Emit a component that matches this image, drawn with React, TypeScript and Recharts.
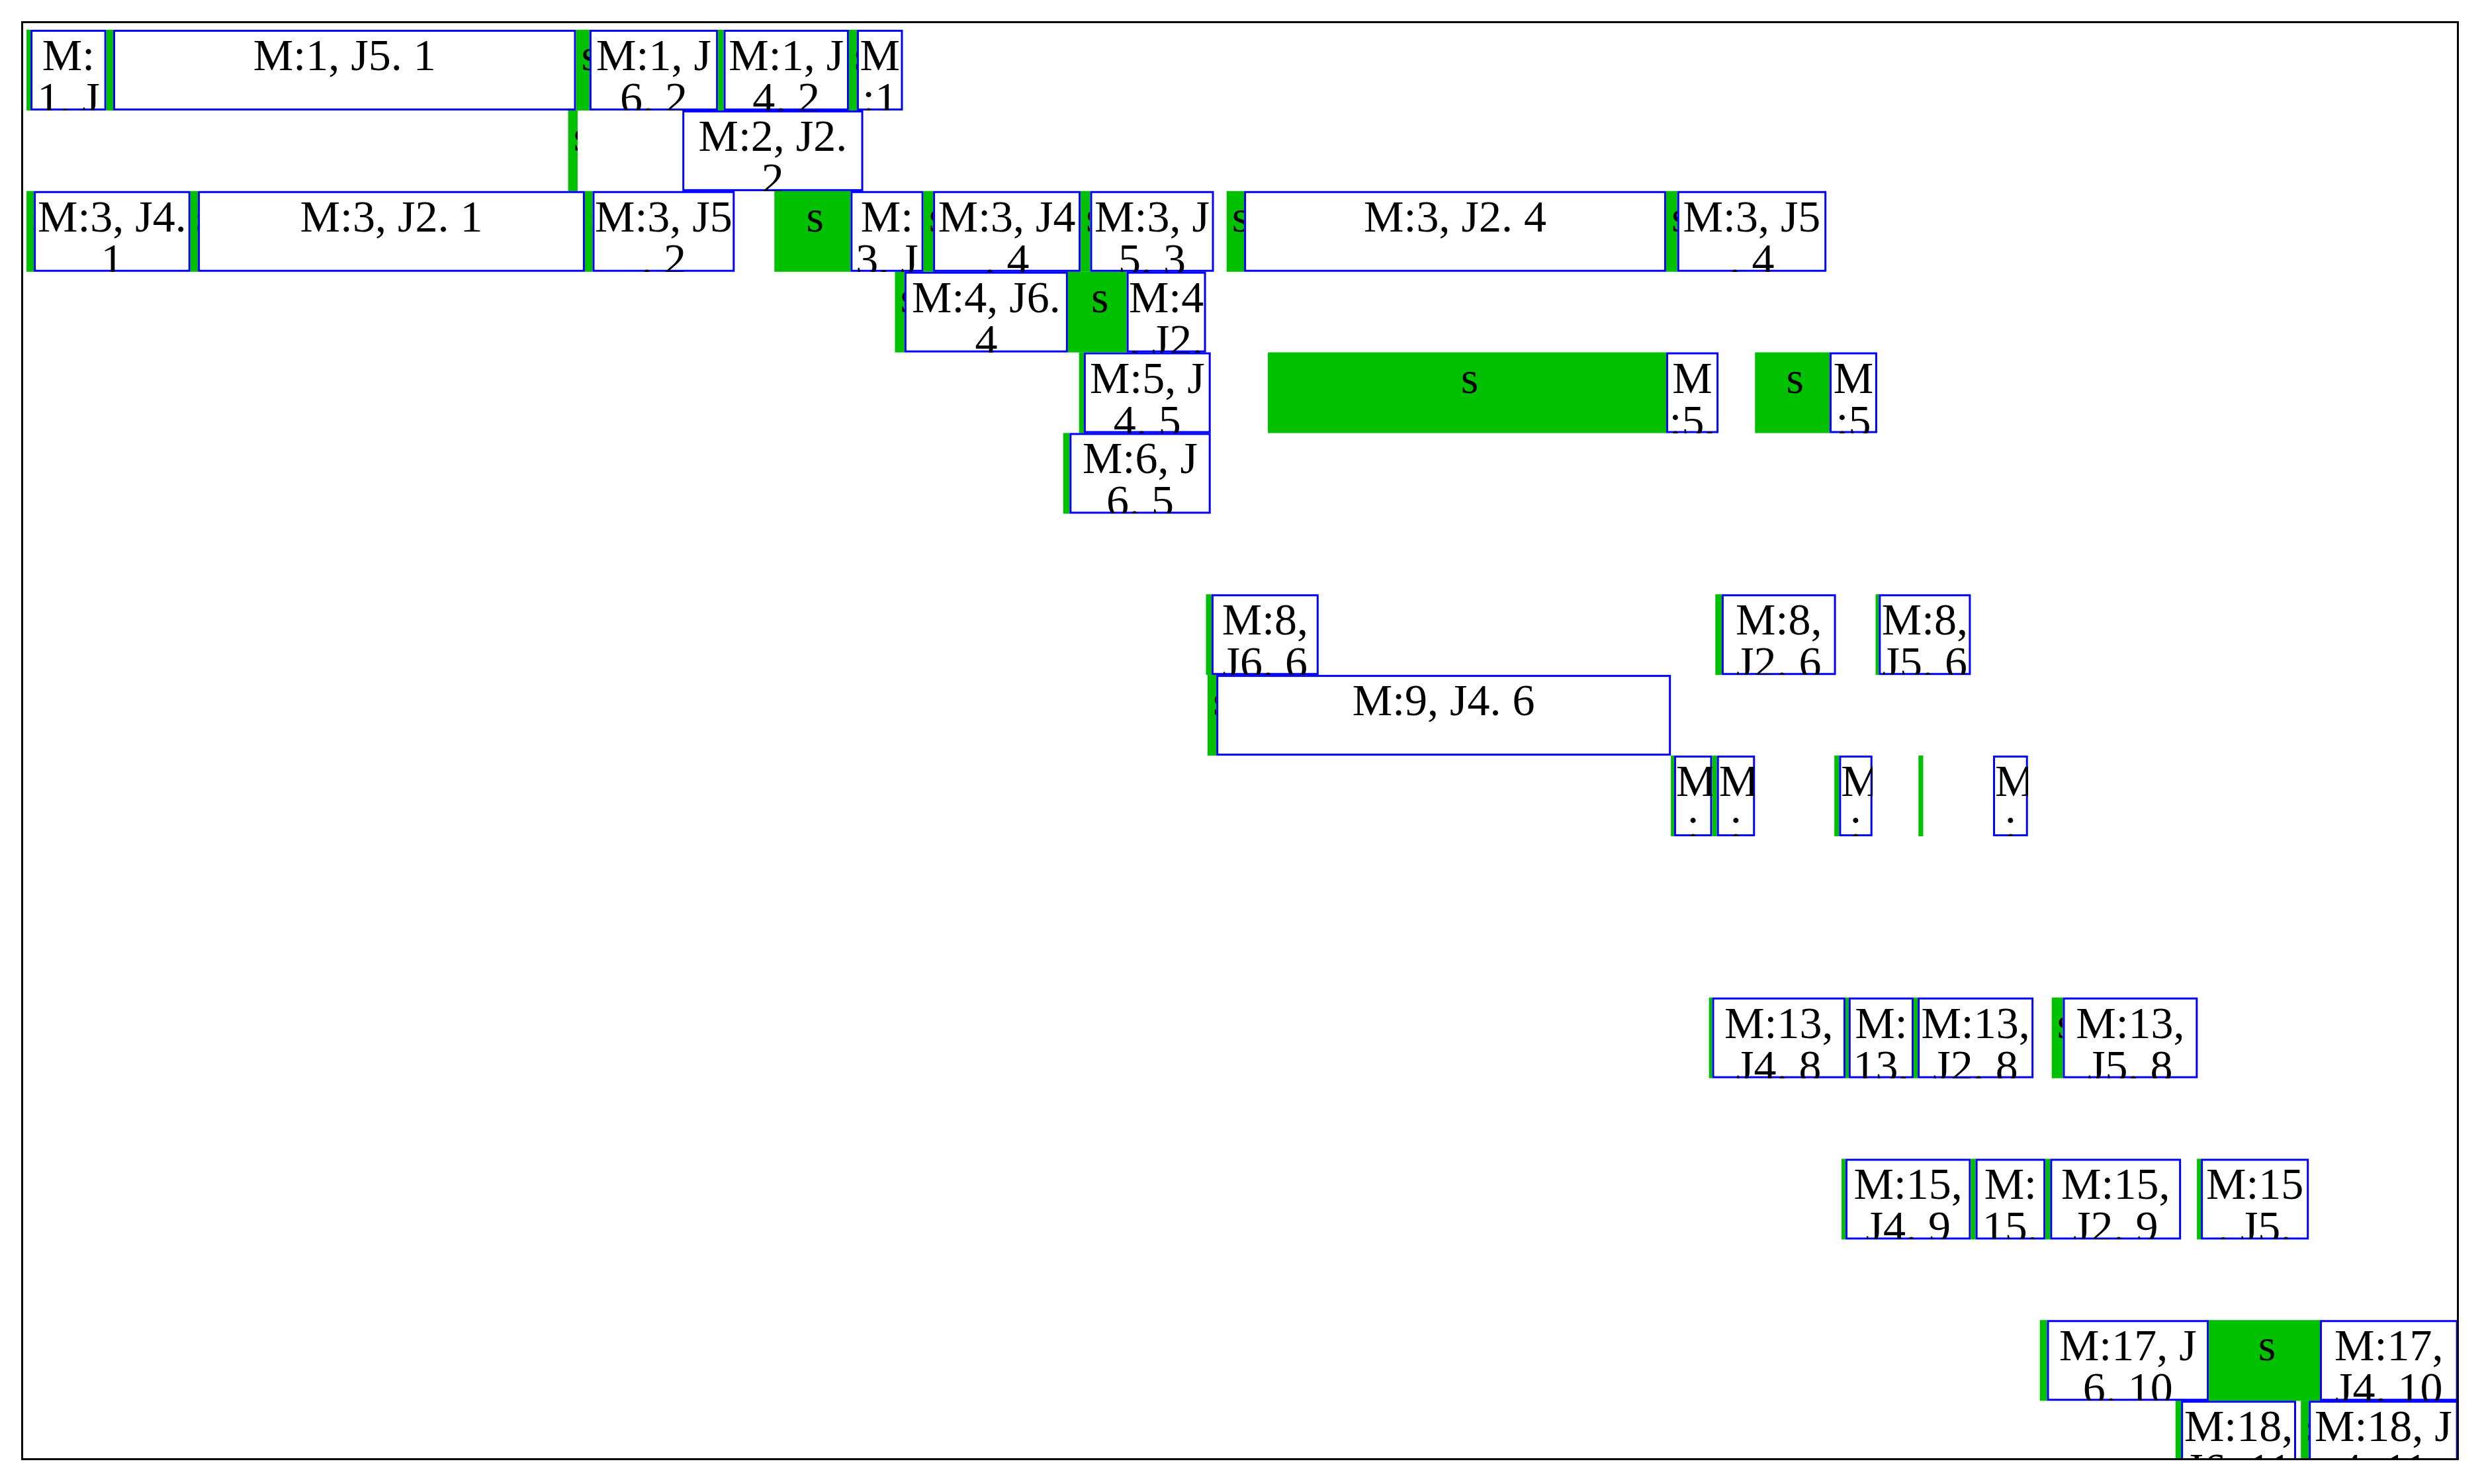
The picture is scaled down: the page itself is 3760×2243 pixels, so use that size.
import React from "react"
import { BarChart, Bar, XAxis, YAxis } from "recharts"

// one row per machine, top to bottom
const machines = [
  "M:1", "M:2", "M:3", "M:4", "M:5", "M:6", "M:7", "M:8", "M:9",
  "M:10", "M:11", "M:12", "M:13", "M:14", "M:15", "M:16", "M:17", "M:18",
]

// [setup start, job start, job end, label]
type Op = [number, number, number, string]

const m1: Op[] = [
  [2.7, 5.2, 53, "M:1, J6. 1"],
  [53, 57.3, 349, "M:1, J5. 1"],
  [349, 357.5, 438.5, "M:1, J6. 2"],
  [438.5, 442, 521, "M:1, J4. 2"],
  [521, 526, 555, "M:1, J2. 3"],
]
const m2: Op[] = [
  [344, 350, 350, ""],
  [416, 416, 530, "M:2, J2. 2"],
]
const m3: Op[] = [
  [2.7, 7.3, 106, "M:3, J4. 1"],
  [106, 110.7, 354.6, "M:3, J2. 1"],
  [354.6, 359.4, 449, "M:3, J5. 2"],
  [474, 522, 568, "M:3, J4. 3"],
  [568, 574, 667, "M:3, J4. 4"],
  [667, 673, 751, "M:3, J5. 3"],
  [759, 770, 1036, "M:3, J2. 4"],
  [1036, 1043, 1137, "M:3, J5. 4"],
]
const m4: Op[] = [
  [550, 556, 659, "M:4, J6. 4"],
  [659, 696, 746, "M:4, J2. 3"],
]
const m5: Op[] = [
  [666, 669, 749, "M:5, J4. 5"],
  [785, 1036, 1069, "M:5, J5. 5"],
  [1092, 1139, 1169, "M:5, J2. 5"],
]
const m6: Op[] = [[656, 660, 749, "M:6, J6. 5"]]
const m7: Op[] = []
const m8: Op[] = [
  [746, 749.5, 817, "M:8, J6. 6"],
  [1067, 1071, 1143, "M:8, J2. 6"],
  [1168, 1170, 1228, "M:8, J5. 6"],
]
const m9: Op[] = [[747, 752.5, 1039, "M:9, J4. 6"]]
const m10: Op[] = [
  [1039, 1041, 1065, "M:10, J4. 7"],
  [1065, 1068, 1092, "M:10, J6. 7"],
  [1142, 1145, 1166, "M:10, J2. 7"],
  [1195, 1198, 1198, ""],
  [1242, 1242, 1264, "M:10, J5. 7"],
]
const m11: Op[] = []
const m12: Op[] = []
const m13: Op[] = [
  [1063, 1065, 1149, "M:13, J4. 8"],
  [1149, 1151, 1192, "M:13, J6. 8"],
  [1192, 1194.5, 1267.5, "M:13, J2. 8"],
  [1279, 1286, 1371, "M:13, J5. 8"],
]
const m14: Op[] = []
const m15: Op[] = [
  [1146.5, 1149, 1228, "M:15, J4. 9"],
  [1228, 1231, 1275, "M:15, J6. 9"],
  [1275, 1278, 1360.5, "M:15, J2. 9"],
  [1370.5, 1373, 1441, "M:15, J5. 9"],
]
const m16: Op[] = []
const m17: Op[] = [
  [1271.5, 1276, 1378, "M:17, J6. 10"],
  [1378, 1448, 1560, "M:17, J4. 10"],
]
const m18: Op[] = [
  [1357, 1360.5, 1433, "M:18, J6. 11"],
  [1436, 1441, 1560, "M:18, J4. 11"],
]

const schedule = [m1, m2, m3, m4, m5, m6, m7, m8, m9, m10, m11, m12, m13, m14, m15, m16, m17, m18]
const timeDomain = [0, 1535]
const MAX_OPS = 8

const table = machines.map((machine, r) => {
  const row: any = { machine }
  let prev = 0
  for (let i = 0; i < MAX_OPS; i++) {
    const op = schedule[r][i]
    if (op) {
      row[`gap${i}`] = op[0] - prev
      row[`setup${i}`] = op[1] - op[0]
      row[`task${i}`] = op[2] - op[1]
      row[`label${i}`] = op[3]
      prev = op[2]
    } else {
      row[`gap${i}`] = 0
      row[`setup${i}`] = 0
      row[`task${i}`] = 0
      row[`label${i}`] = ""
    }
  }
  return row
})

const FONT = "'Liberation Serif', 'Times New Roman', serif"

const BoxText = ({ x, y, width, height, text, padding }: any) => (
  <foreignObject x={x} y={y} width={width} height={height}>
    <div
      style={{
        width,
        height,
        overflow: "hidden",
        boxSizing: "border-box",
        padding,
        fontFamily: FONT,
        fontSize: 68,
        lineHeight: "65px",
        textAlign: "center",
        wordBreak: "break-all",
        lineBreak: "anywhere",
        color: "#000",
      } as any}
    >
      {text}
    </div>
  </foreignObject>
)

const SetupShape = (props: any) => {
  const { x, y, width, height } = props
  if (!(width > 0)) return null
  return (
    <g>
      <rect x={x} y={y} width={width} height={height} fill="#00C000" />
      <BoxText x={x} y={y} width={width} height={height} text="s" padding="6px 0 0 8px" />
    </g>
  )
}

const makeTaskShape = (i: number) => (props: any) => {
  const { x, y, width, height, payload } = props
  if (!(width > 0)) return null
  return (
    <g>
      <rect x={x + 1.5} y={y + 1.5} width={Math.max(width - 3, 0)} height={height - 3} fill="#fff" stroke="#0000FF" strokeWidth={3} />
      <BoxText x={x} y={y} width={width} height={height} text={payload[`label${i}`]} padding="6px 3px 0" />
    </g>
  )
}

const GapShape = () => null

export default function App() {
  const bars: any[] = []
  for (let i = 0; i < MAX_OPS; i++) {
    bars.push(<Bar key={`g${i}`} dataKey={`gap${i}`} stackId="a" shape={GapShape} isAnimationActive={false} />)
    bars.push(<Bar key={`s${i}`} dataKey={`setup${i}`} stackId="a" shape={SetupShape} isAnimationActive={false} />)
    bars.push(<Bar key={`t${i}`} dataKey={`task${i}`} stackId="a" shape={makeTaskShape(i)} isAnimationActive={false} />)
  }
  return (
    <div style={{ position: "absolute", left: 0, top: 0, width: 3760, height: 2243, background: "#fff", overflow: "hidden" }}>
      <div style={{ position: "absolute", left: 0, top: 0, width: 3760, height: 2205, overflow: "hidden" }}>
        <BarChart
          width={3760}
          height={2260}
          data={table}
          layout="vertical"
          barCategoryGap={0}
          barGap={0}
          margin={{ top: 45, right: 45.4, bottom: 21, left: 33.6 }}
        >
          <XAxis type="number" domain={timeDomain} allowDataOverflow hide />
          <YAxis type="category" dataKey="machine" hide />
          {bars}
        </BarChart>
      </div>
      <div
        style={{
          position: "absolute",
          left: 32,
          top: 32,
          width: 3684,
          height: 2175,
          border: "3px solid #000",
          boxSizing: "border-box",
          pointerEvents: "none",
        }}
      />
    </div>
  )
}
